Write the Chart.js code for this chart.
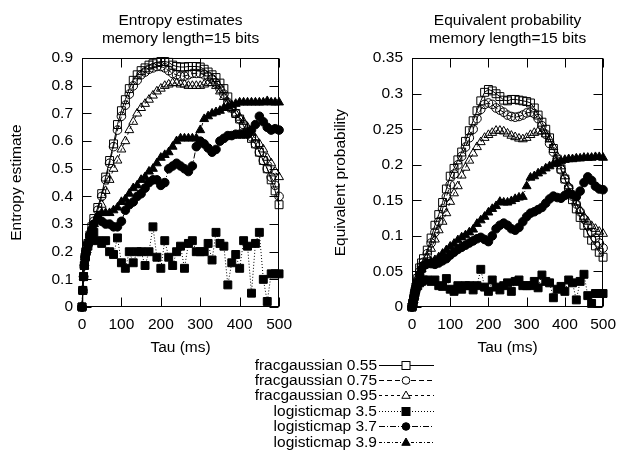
<!DOCTYPE html>
<html><head><meta charset="utf-8">
<script src="https://cdn.jsdelivr.net/npm/chart.js@4.4.1/dist/chart.umd.min.js"></script>
<style>
html,body{margin:0;padding:0;background:#fff;width:624px;height:453px;overflow:hidden;font-family:"Liberation Sans",Arial,Helvetica,sans-serif;}
#w1{position:absolute;left:0;top:0;width:300px;height:362px;}
#w2{position:absolute;left:324px;top:0;width:300px;height:362px;}
.lrow{position:absolute;left:0;width:624px;height:16px;}
.ltxt{position:absolute;left:0;width:377px;text-align:right;font-size:15.5px;line-height:16px;top:0;color:#000;white-space:nowrap;}
.lsvg{position:absolute;left:379px;top:1px;}
</style></head>
<body>
<div id="w1"><canvas id="c1" width="300" height="362"></canvas></div>
<div id="w2"><canvas id="c2" width="300" height="362"></canvas></div>
<div id="legend"></div>
<script>
// ---- data ----
const tau = [0,2,4,6,8,10,15,20,25,30,40,50,60,70,80,90,100,110,120,130,140,150,160,170,180,190,200,210,220,230,240,250,260,270,280,290,300,310,320,330,340,350,360,370,380,390,400,410,420,430,440,450,460,470,480,490,500];

const seriesNames = ['fracgaussian 0.55','fracgaussian 0.75','fracgaussian 0.95','logisticmap 3.5','logisticmap 3.7','logisticmap 3.9'];

// Entropy estimates
const entFrac055 = [0,0.06,0.11,0.15,0.18,0.2,0.23,0.26,0.29,0.32, 0.36,0.41,0.47,0.53,0.59,0.66,0.71,0.75,0.79,0.82, 0.84,0.855,0.865,0.875,0.88,0.885,0.888,0.888,0.885,0.875, 0.87,0.868,0.868,0.87,0.87,0.87,0.868,0.86,0.85,0.84, 0.83,0.81,0.79,0.76,0.72,0.70,0.68,0.655,0.63,0.61, 0.59,0.56,0.53,0.5,0.46,0.42,0.37];
const entFrac075 = [0,0.06,0.11,0.15,0.18,0.2,0.23,0.26,0.28,0.31, 0.35,0.40,0.46,0.52,0.58,0.64,0.69,0.73,0.77,0.80, 0.82,0.84,0.85,0.86,0.865,0.87,0.87,0.865,0.855,0.845, 0.84,0.835,0.835,0.84,0.845,0.845,0.845,0.84,0.835,0.825, 0.81,0.79,0.77,0.74,0.72,0.70,0.68,0.66,0.64,0.615, 0.59,0.56,0.53,0.50,0.47,0.44,0.40];
const entFrac095 = [0,0.06,0.11,0.15,0.18,0.2,0.23,0.26,0.28,0.30, 0.33,0.37,0.42,0.46,0.50,0.53,0.57,0.60,0.64,0.67, 0.70,0.72,0.735,0.75,0.765,0.78,0.79,0.80,0.805,0.81, 0.81,0.805,0.805,0.80,0.80,0.80,0.80,0.805,0.81,0.81, 0.80,0.78,0.76,0.74,0.72,0.70,0.685,0.67,0.65,0.63, 0.61,0.59,0.57,0.54,0.52,0.49,0.47];
const entLog35 = [0,0.06,0.11,0.15,0.18,0.2,0.22,0.24,0.25,0.27, 0.24,0.23,0.24,0.2,0.19,0.25,0.16,0.14,0.2,0.16, 0.2,0.2,0.15,0.2,0.29,0.18,0.14,0.24,0.18,0.15, 0.2,0.22,0.14,0.23,0.24,0.2,0.2,0.2,0.23,0.17, 0.27,0.23,0.22,0.08,0.16,0.19,0.14,0.24,0.22,0.05, 0.23,0.27,0.1,0.02,0.12,0.12,0.12];
const entLog37 = [0,0.06,0.11,0.15,0.18,0.2,0.23,0.26,0.28,0.30, 0.32,0.31,0.30,0.30,0.29,0.29,0.31,0.35,0.37,0.38, 0.40,0.41,0.43,0.45,0.46,0.46,0.44,0.45,0.50,0.51, 0.52,0.51,0.50,0.49,0.51,0.58,0.60,0.59,0.575,0.56, 0.57,0.60,0.61,0.62,0.62,0.625,0.625,0.625,0.625,0.64, 0.66,0.69,0.67,0.65,0.64,0.645,0.64];
const entLog39 = [0,0.06,0.11,0.15,0.18,0.2,0.23,0.26,0.28,0.30, 0.33,0.34,0.34,0.34,0.35,0.36,0.38,0.39,0.41,0.43, 0.44,0.46,0.47,0.49,0.50,0.52,0.54,0.55,0.56,0.58, 0.60,0.61,0.61,0.61,0.61,0.61,0.64,0.68,0.69,0.70, 0.705,0.71,0.72,0.725,0.73,0.735,0.74,0.74,0.74,0.74, 0.74,0.74,0.74,0.745,0.74,0.74,0.74];

// Equivalent probability
const probFrac055 = [0,0.005,0.01,0.016,0.022,0.028,0.04,0.055,0.062,0.068, 0.08,0.097,0.115,0.13,0.147,0.166,0.184,0.195,0.207,0.218, 0.233,0.248,0.262,0.276,0.29,0.302,0.306,0.304,0.3,0.296, 0.291,0.29,0.292,0.292,0.291,0.29,0.289,0.287,0.28,0.27, 0.26,0.25,0.238,0.223,0.208,0.194,0.18,0.166,0.151,0.138, 0.126,0.115,0.104,0.094,0.086,0.077,0.07];
const probFrac075 = [0,0.005,0.01,0.016,0.022,0.027,0.038,0.05,0.057,0.063, 0.075,0.09,0.105,0.12,0.138,0.155,0.172,0.187,0.2,0.212, 0.225,0.238,0.25,0.265,0.278,0.285,0.287,0.285,0.28,0.277, 0.274,0.27,0.268,0.267,0.268,0.27,0.273,0.274,0.272,0.265, 0.255,0.243,0.23,0.218,0.205,0.193,0.18,0.168,0.156,0.145, 0.134,0.124,0.114,0.105,0.097,0.09,0.083];
const probFrac095 = [0,0.005,0.01,0.016,0.022,0.026,0.036,0.046,0.053,0.058, 0.07,0.082,0.095,0.108,0.12,0.132,0.148,0.16,0.17,0.185, 0.196,0.206,0.216,0.225,0.232,0.238,0.242,0.245,0.248,0.248, 0.247,0.244,0.241,0.239,0.237,0.236,0.238,0.242,0.245,0.247, 0.247,0.243,0.236,0.225,0.212,0.198,0.184,0.17,0.158,0.147, 0.136,0.127,0.12,0.114,0.11,0.106,0.103];
const probLog35 = [0,0.005,0.01,0.015,0.02,0.025,0.03,0.034,0.036,0.038, 0.038,0.036,0.038,0.03,0.029,0.04,0.025,0.022,0.03,0.025, 0.03,0.03,0.024,0.03,0.053,0.028,0.022,0.038,0.028,0.024, 0.03,0.034,0.022,0.036,0.038,0.03,0.03,0.03,0.036,0.027, 0.045,0.036,0.034,0.013,0.025,0.029,0.022,0.038,0.034,0.01, 0.036,0.046,0.016,0.005,0.019,0.019,0.019];
const probLog37 = [0,0.005,0.01,0.016,0.022,0.026,0.036,0.046,0.053,0.058, 0.061,0.061,0.06,0.062,0.065,0.068,0.073,0.077,0.081,0.084, 0.087,0.09,0.093,0.096,0.098,0.095,0.092,0.1,0.11,0.115, 0.118,0.115,0.11,0.108,0.112,0.12,0.127,0.132,0.134,0.137, 0.14,0.146,0.152,0.156,0.154,0.153,0.157,0.16,0.158,0.155, 0.163,0.175,0.183,0.178,0.17,0.166,0.165];
const probLog39 = [0,0.005,0.01,0.016,0.022,0.026,0.036,0.046,0.053,0.058, 0.062,0.064,0.066,0.07,0.075,0.08,0.085,0.089,0.094,0.098, 0.101,0.105,0.109,0.117,0.122,0.127,0.133,0.138,0.142,0.148, 0.147,0.147,0.149,0.152,0.154,0.155,0.17,0.182,0.184,0.188, 0.191,0.195,0.198,0.201,0.203,0.205,0.207,0.208,0.208,0.209, 0.209,0.21,0.21,0.21,0.211,0.211,0.21];

// tick values and labels
const xTickValues = [0,100,200,300,400,500];
const xTickLabels = ['0','100','200','300','400','500'];
const entTickValues = [0,0.1,0.2,0.3,0.4,0.5,0.6,0.7,0.8,0.9];
const entTickLabels = ['0','0.1','0.2','0.3','0.4','0.5','0.6','0.7','0.8','0.9'];
const probTickValues = [0,0.05,0.1,0.15,0.2,0.25,0.3,0.35];
const probTickLabels = ['0','0.05','0.1','0.15','0.2','0.25','0.3','0.35'];

// ---- styles ----
const FONT = '"Liberation Sans", Arial, Helvetica, sans-serif';
const FS = 15.5;
const shapes = ['rect','circle','triangle','rect','circle','triangle'];
const radii = [5.6,4.3,5.1,5.6,4.3,5.1];
const filled = [false,false,false,true,true,true];
const dashes = [[],[6,3],[3,3],[1,2],[6,2,1,2],[3,2,1,2]];

function makeDatasets(list){
  return list.map((vals,i)=>({
    label: seriesNames[i],
    data: tau.map((t,j)=>({x:t,y:vals[j]})),
    borderColor:'#000', borderWidth:1, borderDash:dashes[i],
    pointStyle:shapes[i], pointRadius:radii[i], pointHoverRadius:radii[i],
    pointBackgroundColor: filled[i] ? '#000' : 'rgba(0,0,0,0)',
    pointBorderColor:'#000', pointBorderWidth:1,
    fill:false, tension:0, clip:false, order:5-i
  }));
}

const frame = {
  id:'frame',
  beforeDatasetsDraw(chart){
    const {ctx, chartArea:a} = chart;
    const x = chart.scales.x, y = chart.scales.y;
    ctx.save(); ctx.strokeStyle='#000'; ctx.lineWidth=1;
    const L=Math.round(a.left)+0.5, R=Math.round(a.right)-0.5, T=Math.round(a.top)+0.5, B=Math.round(a.bottom)-0.5;
    ctx.strokeRect(L,T,R-L,B-T);
    const TL=9;
    ctx.beginPath();
    x.ticks.forEach(t=>{const px=Math.round(x.getPixelForValue(t.value))+0.5; ctx.moveTo(px,B); ctx.lineTo(px,B-TL); ctx.moveTo(px,T); ctx.lineTo(px,T+TL);});
    y.ticks.forEach(t=>{const py=Math.round(y.getPixelForValue(t.value))+0.5; ctx.moveTo(L,py); ctx.lineTo(L+TL,py); ctx.moveTo(R,py); ctx.lineTo(R-TL,py);});
    ctx.stroke(); ctx.restore();
  }
};

function makeOptions(titleLines, yTitle, yMax, yVals, yLabels, yWidth, padRight){
  const f = {family:FONT, size:FS, weight:'normal', lineHeight:1.2};
  return {
    responsive:false, animation:false, devicePixelRatio:1,
    layout:{padding:{left:0,right:padRight,top:0,bottom:0}},
    plugins:{
      legend:{display:false}, tooltip:{enabled:false},
      title:{display:true, fullSize:false, text:titleLines, color:'#000', font:f, padding:{top:11,bottom:10}}
    },
    scales:{
      x:{type:'linear', min:0, max:500,
        afterBuildTicks:s=>{s.ticks = xTickValues.map(v=>({value:v}));},
        ticks:{callback:(v,i)=>xTickLabels[i], color:'#000', font:f, padding:8, maxRotation:0, autoSkip:false},
        grid:{display:false, drawTicks:false}, border:{display:false},
        title:{display:true, text:'Tau (ms)', color:'#000', font:f, padding:{top:0,bottom:5}},
        afterFit:s=>{s.height = 55;}
      },
      y:{type:'linear', min:0, max:yMax,
        afterBuildTicks:s=>{s.ticks = yVals.map(v=>({value:v}));},
        ticks:{callback:(v,i)=>yLabels[i], color:'#000', font:f, padding:9, autoSkip:false},
        grid:{display:false, drawTicks:false}, border:{display:false},
        title:{display:true, text:yTitle, color:'#000', font:f, padding:{top:7,bottom:0}},
        afterFit:s=>{s.width = yWidth;}
      }
    }
  };
}

new Chart(document.getElementById('c1'), {
  type:'line',
  data:{datasets: makeDatasets([entFrac055,entFrac075,entFrac095,entLog35,entLog37,entLog39])},
  options: makeOptions(['Entropy estimates','memory length=15 bits'], 'Entropy estimate', 0.9, entTickValues, entTickLabels, 82, 20),
  plugins:[frame]
});
new Chart(document.getElementById('c2'), {
  type:'line',
  data:{datasets: makeDatasets([probFrac055,probFrac075,probFrac095,probLog35,probLog37,probLog39])},
  options: makeOptions(['Equivalent probability','memory length=15 bits'], 'Equivalent probability', 0.35, probTickValues, probTickLabels, 88, 17),
  plugins:[frame]
});

// ---- legend (HTML) ----
const svgDash = ['', '5,3', '3,3', '1,2', '6,2,1,2', '3,2,1,2'];
function markerSvg(i){
  const cx=27, cy=7.5;
  if (shapes[i]==='rect') return `<rect x="${cx-4}" y="${cy-4}" width="8" height="8" fill="${filled[i]?'#000':'#fff'}" stroke="#000" stroke-width="1"/>`;
  if (shapes[i]==='circle') return `<circle cx="${cx}" cy="${cy}" r="3.8" fill="${filled[i]?'#000':'#fff'}" stroke="#000" stroke-width="1"/>`;
  return `<polygon points="${cx},${cy-4.5} ${cx+4.2},${cy+2.8} ${cx-4.2},${cy+2.8}" fill="${filled[i]?'#000':'#fff'}" stroke="#000" stroke-width="1"/>`;
}
const leg = document.getElementById('legend');
seriesNames.forEach((name,i)=>{
  const row = document.createElement('div');
  row.className='lrow';
  row.style.top = (356.5 + i*15.4) + 'px';
  row.innerHTML = `<div class="ltxt">${name}</div><svg class="lsvg" width="56" height="15"><line x1="0" y1="7.5" x2="55" y2="7.5" stroke="#000" stroke-width="1" ${svgDash[i]?`stroke-dasharray="${svgDash[i]}"`:''}/>${markerSvg(i)}</svg>`;
  leg.appendChild(row);
});
</script>
</body></html>
